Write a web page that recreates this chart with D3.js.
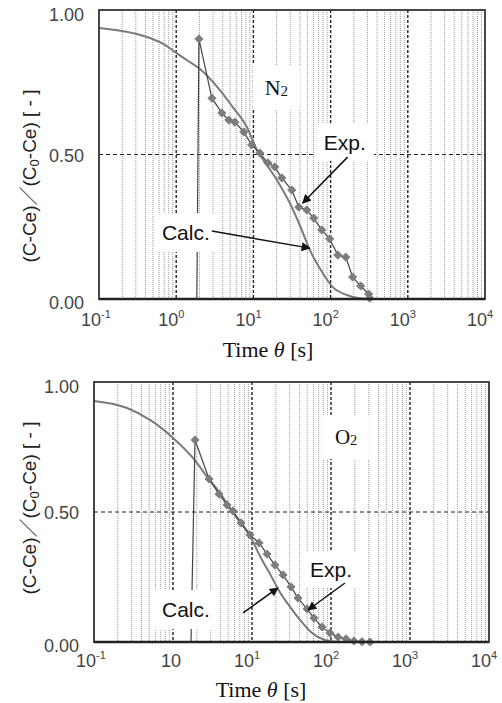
<!DOCTYPE html>
<html><head><meta charset="utf-8">
<script src="https://cdn.jsdelivr.net/npm/d3@7"></script>
<style>body{margin:0;background:#fff}svg{display:block}</style>
</head><body><svg id="c" width="502" height="703"></svg>
<script>
// ---- data ----
const yTicks = [0, 0.5, 1];
const yTickLabels = ["0.00", "0.50", "1.00"];
const xDecades = [-1, 0, 1, 2, 3, 4];
const n2TickExps = ["-1", "0", "1", "2", "3", "4"];
const o2TickExps = ["-1", "", "1", "2", "3", "4"];

const n2ExpTime  = [1.85,1.97,2.9,3.9,4.8,5.75,7.5,9.5,12.1,15.4,18.9,23.3,31.4,38.7,49.1,60.4,76.7,97.3,124,157,193,245,311,321];
const n2ExpValue = [0,0.90,0.695,0.644,0.619,0.612,0.578,0.533,0.505,0.471,0.457,0.419,0.377,0.318,0.308,0.280,0.239,0.208,0.152,0.145,0.076,0.045,0.017,0.003];
const n2CalcTime  = [0.1,0.275,0.457,0.759,0.96,1.37,2.03,3.68,5.41,8.22,11.1,14.9,20.1,29.6,39.8,53.7,79,106,162,238,431,10000];
const n2CalcValue = [0.938,0.920,0.903,0.875,0.855,0.827,0.796,0.723,0.664,0.595,0.516,0.464,0.412,0.332,0.256,0.170,0.090,0.042,0.014,0.003,0,0];

const o2ExpTime  = [1.69,1.90,2.86,3.82,4.83,5.75,7.26,9.44,12.3,15.5,19.5,24.7,31.2,38.2,49.7,60.9,76.9,97.1,123,155,195,247,312];
const o2ExpValue = [0,0.777,0.627,0.569,0.527,0.504,0.458,0.412,0.381,0.338,0.296,0.258,0.212,0.169,0.127,0.092,0.058,0.035,0.019,0.012,0.004,0.001,0];
const o2CalcTime  = [0.1,0.262,0.512,1.0,1.79,2.77,3.94,5.75,9.44,13.4,16.9,21.3,30.3,40.5,57.4,84,130,10000];
const o2CalcValue = [0.927,0.900,0.854,0.785,0.708,0.631,0.573,0.496,0.408,0.315,0.262,0.204,0.135,0.085,0.035,0.008,0,0];

// annotations in data coordinates [time, value]
const n2Annot = {gas:[14.0,0.706], exp:[81.5,0.516], calc:[0.653,0.204],
  expArrow:[[166,0.491],[43.5,0.332]], calcArrow:[[2.9,0.235],[53.7,0.176]]};
const o2Annot = {gas:[112,0.762], exp:[54.2,0.25], calc:[0.726,0.096],
  expArrow:[[150,0.227],[51.2,0.123]], calcArrow:[[7.7,0.112],[21.3,0.208]]};

// ---- layout ----
const panels = [
  {gas:"N", L:99, R:485, T:10, B:299, expT:n2ExpTime, expV:n2ExpValue, calcT:n2CalcTime, calcV:n2CalcValue,
   exps:n2TickExps, ann:n2Annot, gasSize:22, titleX:268, titleY:357, ylabY:176, tickDy:27},
  {gas:"O", L:94, R:489, T:382, B:642, expT:o2ExpTime, expV:o2ExpValue, calcT:o2CalcTime, calcV:o2CalcValue,
   exps:o2TickExps, ann:o2Annot, gasSize:21, titleX:261, titleY:697, ylabY:508, tickDy:25}
];

const svg = d3.select("#c");
svg.append("defs").append("marker").attr("id","ah").attr("viewBox","0 0 10 10")
  .attr("refX",9).attr("refY",5).attr("markerWidth",11).attr("markerHeight",9)
  .attr("markerUnits","userSpaceOnUse").attr("orient","auto")
  .append("path").attr("d","M0,0L10,5L0,10z").attr("fill","#111");

panels.forEach(p => {
  const x = d3.scaleLog().domain([0.1, 10000]).range([p.L, p.R]);
  const y = d3.scaleLinear().domain([0, 1]).range([p.B, p.T]);
  const g = svg.append("g");

  // minor grid
  const minors = [];
  xDecades.slice(0, -1).forEach(d => { for (let k = 2; k <= 9; k++) minors.push(k * Math.pow(10, d)); });
  g.selectAll(".mg").data(minors).join("line")
    .attr("x1", d => x(d)).attr("x2", d => x(d)).attr("y1", p.T).attr("y2", p.B)
    .attr("stroke", "#9a9a9a").attr("stroke-width", 1).attr("stroke-dasharray", "1,1");
  // major grid
  g.selectAll(".Mg").data(xDecades.slice(1, -1)).join("line")
    .attr("x1", d => x(Math.pow(10, d))).attr("x2", d => x(Math.pow(10, d))).attr("y1", p.T).attr("y2", p.B)
    .attr("stroke", "#222").attr("stroke-width", 1.4).attr("stroke-dasharray", "3,2");
  g.append("line").attr("x1", p.L).attr("x2", p.R).attr("y1", y(0.5)).attr("y2", y(0.5))
    .attr("stroke", "#222").attr("stroke-width", 1).attr("stroke-dasharray", "4,3");

  // calc line
  g.append("path").datum(d3.zip(p.calcT, p.calcV))
    .attr("d", d3.line().x(d => x(d[0])).y(d => y(d[1])).curve(d3.curveMonotoneX))
    .attr("fill", "none").attr("stroke", "#7a7a7a").attr("stroke-width", 2);
  // exp line
  const ed = d3.zip(p.expT, p.expV);
  g.append("path").datum(ed)
    .attr("d", d3.line().x(d => x(d[0])).y(d => y(d[1])))
    .attr("fill", "none").attr("stroke", "#444").attr("stroke-width", 1.2);
  g.selectAll(".mk").data(ed.slice(1)).join("path")
    .attr("transform", d => `translate(${x(d[0])},${y(d[1])}) rotate(45)`)
    .attr("d", d3.symbol(d3.symbolSquare, 34))
    .attr("fill", "#7d7d7d").attr("stroke", "#777").attr("stroke-width", 0.8).attr("stroke-linejoin", "round");

  // labels with white boxes
  function label(pos, fn, padX, padY) {
    const t = fn(g.append("text").attr("x", x(pos[0])).attr("y", y(pos[1])));
    const bb = t.node().getBBox();
    g.insert("rect", () => t.node())
      .attr("x", bb.x - padX).attr("y", bb.y - padY).attr("width", bb.width + 2 * padX).attr("height", bb.height + 2 * padY)
      .attr("fill", "#fff");
    return t;
  }
  label(p.ann.gas, t => {
    t.attr("font-family", "Liberation Serif, Times New Roman, serif").attr("font-size", p.gasSize).attr("fill", "#111");
    t.append("tspan").text(p.gas);
    t.append("tspan").attr("font-size", p.gasSize * 0.68).attr("dy", 1).text("2");
    return t;
  }, 12, 10);
  label(p.ann.exp, t => t.attr("font-family", "Liberation Sans, Arial, sans-serif").attr("font-size", 21).attr("fill", "#111").text("Exp."), 8, 7);
  label(p.ann.calc, t => t.attr("font-family", "Liberation Sans, Arial, sans-serif").attr("font-size", 21).attr("fill", "#111").text("Calc."), 7, 8);

  // arrows
  [p.ann.expArrow, p.ann.calcArrow].forEach(a => {
    g.append("line").attr("x1", x(a[0][0])).attr("y1", y(a[0][1])).attr("x2", x(a[1][0])).attr("y2", y(a[1][1]))
      .attr("stroke", "#111").attr("stroke-width", 1.5).attr("marker-end", "url(#ah)");
  });

  // frame
  g.append("rect").attr("x", p.L).attr("y", p.T).attr("width", p.R - p.L).attr("height", p.B - p.T)
    .attr("fill", "none").attr("stroke", "#333").attr("stroke-width", 1.8);
  g.append("line").attr("x1", p.L).attr("x2", p.R).attr("y1", p.B).attr("y2", p.B)
    .attr("stroke", "#222").attr("stroke-width", 2.6);

  // y ticks
  g.selectAll(".yt").data(yTicks).join("text")
    .attr("x", p.L - 15).attr("y", d => y(d) + (d === 1 ? 11 : (d === 0 ? 10 : 7)))
    .attr("text-anchor", "end").attr("font-family", "Liberation Sans, Arial, sans-serif")
    .attr("font-size", 18).attr("fill", "#444").text((d, i) => yTickLabels[i]);
  // x ticks
  xDecades.forEach((d, i) => {
    const t = g.append("text").attr("x", x(Math.pow(10, d)) - 18 + (p.exps[i] === "" ? 6 : 0)).attr("y", p.B + p.tickDy)
      .attr("font-family", "Liberation Sans, Arial, sans-serif").attr("font-size", 18).attr("fill", "#444");
    t.append("tspan").text("10");
    if (p.exps[i] !== "") t.append("tspan").attr("font-size", 11).attr("dy", -8).text(p.exps[i]);
  });
  // x title
  const xt = g.append("text").attr("x", p.titleX).attr("y", p.titleY).attr("text-anchor", "middle")
    .attr("font-family", "Liberation Serif, Times New Roman, serif").attr("font-size", 22).attr("fill", "#111");
  xt.append("tspan").text("Time ");
  xt.append("tspan").attr("font-style", "italic").text("θ");
  xt.append("tspan").text(" [s]");
  // y title
  const yt = g.append("text").attr("transform", `translate(36,${p.ylabY}) rotate(-90)`).attr("text-anchor", "middle")
    .attr("font-family", "Liberation Sans, Arial, sans-serif").attr("font-size", 19).attr("fill", "#222");
  yt.append("tspan").text("(C-Ce)");
  yt.append("tspan").attr("font-family", "Noto Sans CJK SC, Noto Sans CJK JP, sans-serif").attr("fill", "#222").text("／");
  yt.append("tspan").text("(C");
  yt.append("tspan").attr("font-size", 13).attr("dy", 3).text("0");
  yt.append("tspan").attr("dy", -3).text("-Ce) [ - ]");
});
</script></body></html>
